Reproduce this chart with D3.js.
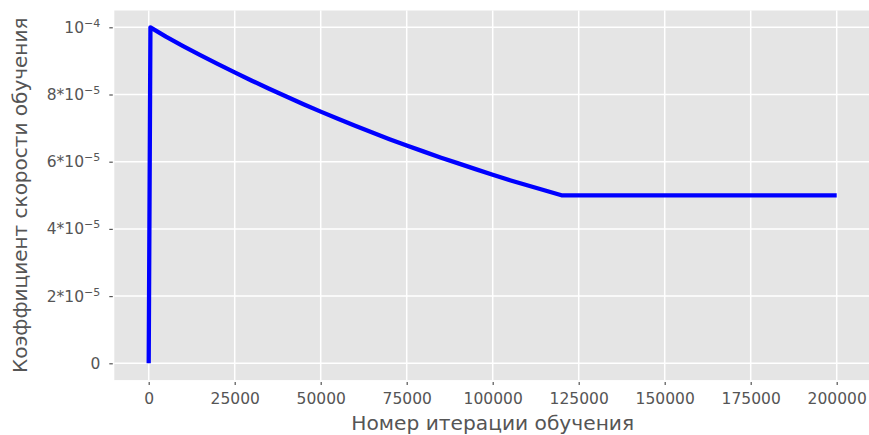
<!DOCTYPE html>
<html><head><meta charset="utf-8">
<script src="https://cdn.jsdelivr.net/npm/d3@7"></script>
<style>html,body{margin:0;padding:0;background:#fff;}svg{display:block;}</style>
</head><body>
<svg id="c" width="869" height="435"></svg>
<script>
// Data
const iterations = [0, 500, 5000, 10000, 15000, 20000, 25000, 30000, 35000, 40000, 45000, 50000, 55000, 60000, 65000, 70000, 75000, 80000, 85000, 90000, 95000, 100000, 105000, 110000, 115000, 120000, 200000];
const learningRate = [0, 1.0e-4, 9.72e-5, 9.44e-5, 9.17e-5, 8.91e-5, 8.66e-5, 8.41e-5, 8.17e-5, 7.94e-5, 7.71e-5, 7.49e-5, 7.28e-5, 7.07e-5, 6.87e-5, 6.67e-5, 6.48e-5, 6.30e-5, 6.12e-5, 5.95e-5, 5.78e-5, 5.61e-5, 5.45e-5, 5.30e-5, 5.15e-5, 5.00e-5, 5.00e-5];
const xTicks = [0, 25000, 50000, 75000, 100000, 125000, 150000, 175000, 200000];
const yTicks = [0, 2e-5, 4e-5, 6e-5, 8e-5, 1e-4];
const yTickBase = ["0", "2*10", "4*10", "6*10", "8*10", "10"];
const yTickExp = ["", "\u22125", "\u22125", "\u22125", "\u22125", "\u22124"];
const xLabel = "Номер итерации обучения";
const yLabel = "Коэффициент скорости обучения";

(function () {
const svg = d3.select("#c");
const pL = 114.3, pR = 871.1, pT = 10.5, pB = 380.1;
const x = d3.scaleLinear().domain([-10000, 210000]).range([pL, pR]);
const y = d3.scaleLinear().domain([-0.5e-5, 1.05e-4]).range([pB, pT]);
const font = "DejaVu Sans";
const grey = "#555555";

svg.append("rect").attr("x", pL).attr("y", pT)
  .attr("width", pR - pL).attr("height", pB - pT).attr("fill", "#e5e5e5");

// grid
svg.append("g").selectAll("line").data(xTicks).join("line")
  .attr("x1", d => x(d)).attr("x2", d => x(d)).attr("y1", pT).attr("y2", pB)
  .attr("stroke", "#fff").attr("stroke-width", 1.5);
svg.append("g").selectAll("line").data(yTicks).join("line")
  .attr("x1", pL).attr("x2", pR).attr("y1", d => y(d)).attr("y2", d => y(d))
  .attr("stroke", "#fff").attr("stroke-width", 1.5);

// x axis
const xAxis = d3.axisBottom(x).tickValues(xTicks).tickFormat(d3.format("d")).tickSize(5).tickPadding(8);
const gx = svg.append("g").attr("transform", `translate(0,${pB})`).call(xAxis);
gx.select(".domain").remove();
gx.selectAll(".tick line").attr("stroke", grey).attr("stroke-width", 1.2).attr("y1", 2);
gx.selectAll(".tick text").attr("fill", grey).attr("font-family", font).attr("font-size", "15.5px");

// y axis
const yAxis = d3.axisLeft(y).tickValues(yTicks).tickFormat("").tickSize(5).tickPadding(10);
const gy = svg.append("g").attr("transform", `translate(${pL},0)`).call(yAxis);
gy.select(".domain").remove();
gy.selectAll(".tick line").attr("stroke", grey).attr("stroke-width", 1.2).attr("x1", -1.5);
gy.selectAll(".tick text").remove();
gy.selectAll(".tick").each(function(d, i) {
  const t = d3.select(this).append("text")
    .attr("x", -14).attr("dy", "0.32em").attr("text-anchor", "end")
    .attr("fill", grey).attr("font-family", font).attr("font-size", "15.5px");
  t.append("tspan").text(yTickBase[i]);
  if (yTickExp[i]) t.append("tspan").attr("font-size", "11px").attr("dy", "-0.55em").text(yTickExp[i]);
});

// line
const line = d3.line().x((d, i) => x(iterations[i])).y(d => y(d));
svg.append("path").datum(learningRate).attr("d", line)
  .attr("fill", "none").attr("stroke", "#0000ff").attr("stroke-width", 4.3)
  .attr("stroke-linejoin", "round").attr("stroke-linecap", "butt");

// labels
svg.append("text").attr("x", (pL + pR) / 2).attr("y", 430).attr("text-anchor", "middle")
  .attr("fill", grey).attr("font-family", font).attr("font-size", "20.2px").text(xLabel);
svg.append("text").attr("transform", `translate(27,${(pT + pB) / 2}) rotate(-90)`)
  .attr("text-anchor", "middle")
  .attr("fill", grey).attr("font-family", font).attr("font-size", "20px").text(yLabel);
})();
</script>
</body></html>
